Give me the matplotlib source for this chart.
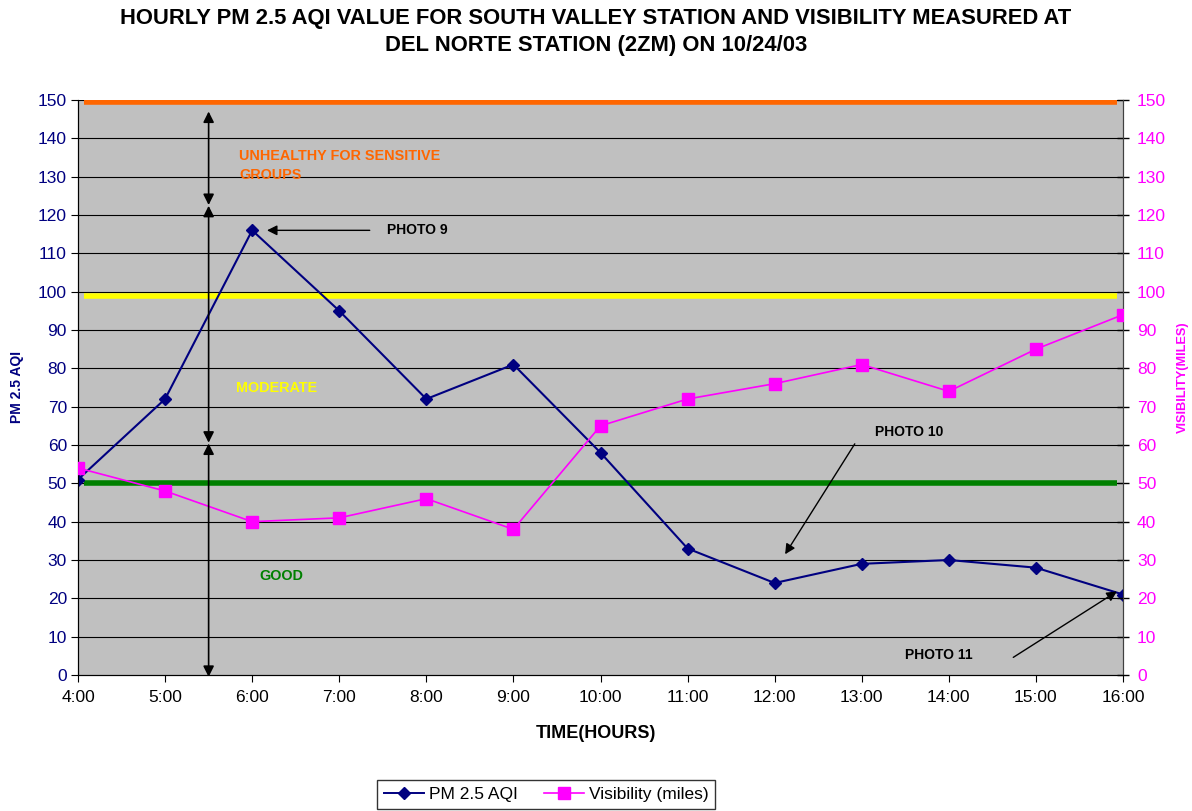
import matplotlib
matplotlib.use("Agg")
import matplotlib.pyplot as plt
from matplotlib.lines import Line2D

plt.rcParams['font.family'] = ['Liberation Sans', 'DejaVu Sans']

hours = ["4:00", "5:00", "6:00", "7:00", "8:00", "9:00", "10:00", "11:00",
         "12:00", "13:00", "14:00", "15:00", "16:00"]
pm25_aqi = [51, 72, 116, 95, 72, 81, 58, 33, 24, 29, 30, 28, 21]
visibility = [54, 48, 40, 41, 46, 38, 65, 72, 76, 81, 74, 85, 94]
threshold_values = [149.5, 99, 50]
threshold_colors = ["#FF6600", "#FFFF00", "#008000"]

fig = plt.figure(figsize=(11.92, 8.11), dpi=100)
ax = fig.add_axes([78/1192, 1-675/811, (1123-78)/1192, (675-100)/811])
ax.set_facecolor("#C0C0C0")
x = list(range(len(hours)))

ax.set_xlim(0, 12)
ax.set_ylim(0, 150)
ax.set_yticks(range(0, 151, 10))
ax.set_xticks(x)
ax.set_xticklabels(hours, fontsize=12.5)
for v in range(10, 151, 10):
    ax.axhline(v, color="black", lw=0.8, zorder=1)

for v, c in zip(threshold_values, threshold_colors):
    ax.plot([0.07, 11.93], [v, v], color=c, lw=4, zorder=2, solid_capstyle="butt")

ax.plot(x, pm25_aqi, color="#000080", lw=1.5, marker="D", ms=6, zorder=4,
        label="PM 2.5 AQI")

ax2 = ax.twinx()
ax2.set_ylim(0, 150)
ax2.set_yticks(range(0, 151, 10))
ax2.plot(x, visibility, color="#FF00FF", lw=1.2, marker="s", ms=8, zorder=3,
         label="Visibility (miles)")
ax2.tick_params(axis="y", direction="inout", length=8, color="black",
                labelcolor="#FF00FF", labelsize=12.5, width=1, pad=6)
ax.tick_params(axis="y", direction="out", length=5, labelsize=12.5,
               labelcolor="#000080", pad=3)
ax.tick_params(axis="x", direction="out", length=5, pad=6)

for a in (ax, ax2):
    a.spines["top"].set_visible(False)
    a.spines["bottom"].set_color("black")
    a.spines["left"].set_color("black")
    a.spines["right"].set_color("#404040")

# vertical double arrows
arrow_kw = dict(arrowstyle="<|-|>", color="black", lw=1.2, mutation_scale=16,
                shrinkA=0, shrinkB=0)
for y0, y1 in [(147, 122.6), (122.4, 60.6), (60.4, -0.5)]:
    ax2.annotate("", xy=(1.5, y0), xytext=(1.5, y1), arrowprops=arrow_kw,
                 annotation_clip=False)

# photo arrows
one_kw = dict(arrowstyle="-|>", color="black", lw=1.0, mutation_scale=15,
              shrinkA=0, shrinkB=0)
ax2.annotate("", xy=(2.17, 116), xytext=(3.35, 116), arrowprops=one_kw)
ax2.text(3.55, 116, "PHOTO 9", fontsize=10, fontweight="bold", va="center")
ax2.annotate("", xy=(8.12, 31.5), xytext=(8.92, 60.3), arrowprops=one_kw)
ax2.text(9.54, 63.5, "PHOTO 10", fontsize=10, fontweight="bold", va="center",
         ha="center")
ax2.annotate("", xy=(11.93, 21.8), xytext=(10.74, 4.6), arrowprops=one_kw)
ax2.text(9.88, 5.2, "PHOTO 11", fontsize=10, fontweight="bold", va="center",
         ha="center")

ax2.text(1.85, 133, "UNHEALTHY FOR SENSITIVE\nGROUPS", fontsize=10.4,
         fontweight="bold", color="#FF6600", va="center", linespacing=1.45)
ax2.text(1.82, 75, "MODERATE", fontsize=10.4, fontweight="bold",
         color="#FFFF00", va="center")
ax2.text(2.08, 25.8, "GOOD", fontsize=10.4, fontweight="bold",
         color="#008000", va="center")

fig.text(0.5, 1-32/811,
         "HOURLY PM 2.5 AQI VALUE FOR SOUTH VALLEY STATION AND VISIBILITY MEASURED AT\nDEL NORTE STATION (2ZM) ON 10/24/03",
         ha="center", va="center", fontsize=15.8, fontweight="bold",
         linespacing=1.4)
fig.text(0.5, 1-733/811, "TIME(HOURS)", ha="center", va="center",
         fontsize=13, fontweight="bold")
fig.text(17/1192, 1-387/811, "PM 2.5 AQI", rotation=90, ha="center",
         va="center", fontsize=10, fontweight="bold", color="#000080")
fig.text(1183/1192, 1-377/811, "VISIBILITY(MILES)", rotation=90, ha="center",
         va="center", fontsize=9.2, fontweight="bold", color="#FF00FF")

handles = [Line2D([], [], color="#000080", lw=1.4, marker="D", ms=6),
           Line2D([], [], color="#FF00FF", lw=1.2, marker="s", ms=8)]
leg = fig.legend(handles, ["PM 2.5 AQI", "Visibility (miles)"], ncol=2,
                 loc="upper center", bbox_to_anchor=(546/1192, 1-771/811),
                 frameon=True, fancybox=False, edgecolor="black",
                 fontsize=12.5, handlelength=2.3, columnspacing=1.5,
                 borderpad=0.4, handletextpad=0.3)
leg.get_frame().set_linewidth(1.0)

fig.savefig("out.png", dpi=100)
